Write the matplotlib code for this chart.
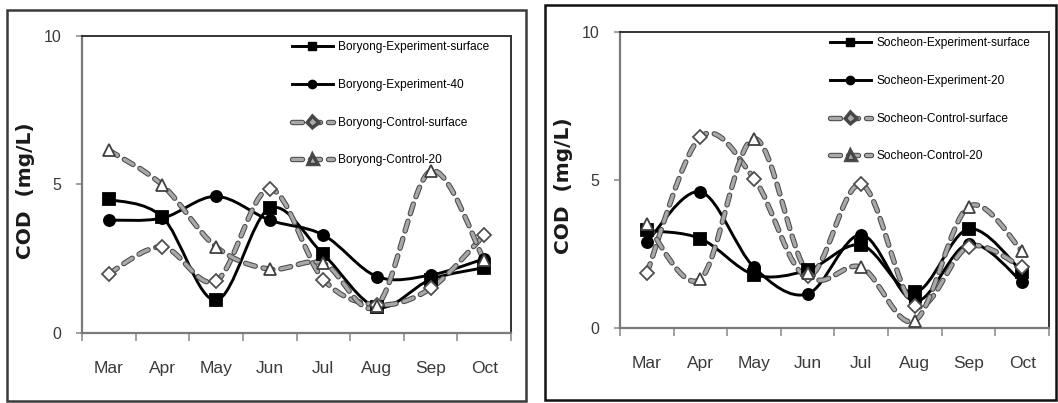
import numpy as np
import matplotlib
matplotlib.use('Agg')
import matplotlib.pyplot as plt
import matplotlib.patheffects as pe
from matplotlib.path import Path
from matplotlib.patches import PathPatch, Rectangle
from matplotlib.lines import Line2D

plt.rcParams['font.family'] = ['Liberation Sans', 'DejaVu Sans']

# Months on the x axis
months = ['Mar', 'Apr', 'May', 'Jun', 'Jul', 'Aug', 'Sep', 'Oct']

# Boryong COD values (mg/L)
bor_exp_surface = [4.5, 3.9, 1.1, 4.2, 2.65, 0.87, 1.8, 2.2]
bor_exp_40 = [3.8, 3.87, 4.6, 3.8, 3.3, 1.9, 1.95, 2.5]
bor_ctl_surface = [2.0, 2.9, 1.75, 4.85, 1.8, 0.95, 1.5, 3.3]
bor_ctl_20 = [6.15, 4.98, 2.9, 2.15, 2.35, 0.92, 5.45, 2.45]

# Socheon COD values (mg/L)
soc_exp_surface = [3.3, 3.02, 1.8, 1.95, 2.8, 1.2, 3.35, 1.9]
soc_exp_20 = [2.9, 4.6, 2.05, 1.15, 3.15, 0.9, 2.85, 1.55]
soc_ctl_surface = [1.85, 6.45, 5.05, 1.75, 4.85, 0.75, 2.75, 2.05]
soc_ctl_20 = [3.5, 1.65, 6.4, 1.85, 2.05, 0.25, 4.1, 2.6]

bor_labels = ['Boryong-Experiment-surface', 'Boryong-Experiment-40',
              'Boryong-Control-surface', 'Boryong-Control-20']
soc_labels = ['Socheon-Experiment-surface', 'Socheon-Experiment-20',
              'Socheon-Control-surface', 'Socheon-Control-20']


def smooth_path(x, y):
    # Excel style smoothed line through the points (cubic Bezier pieces)
    pts = np.column_stack([x, y]).astype(float)
    n = len(pts)
    verts = [pts[0]]
    codes = [Path.MOVETO]
    for i in range(n - 1):
        p0 = pts[max(i - 1, 0)]
        p1 = pts[i]
        p2 = pts[i + 1]
        p3 = pts[min(i + 2, n - 1)]
        verts += [p1 + (p2 - p0) / 6, p2 - (p3 - p1) / 6, p2]
        codes += [Path.CURVE4] * 3
    return Path(verts, codes)


solid = dict(color='black', lw=2.1)
dash_fx = [pe.Stroke(linewidth=3.9, foreground='#4a4a4a'), pe.Normal()]
dashed = dict(color='#a8a8a8', lw=2.4, linestyle=(0, (3, 2.4)))

styles = [
    dict(line='solid', marker='s', ms=9, mfc='black', mec='black'),
    dict(line='solid', marker='o', ms=8, mfc='black', mec='black'),
    dict(line='dash', marker='D', ms=7, mfc='white', mec='#505050'),
    dict(line='dash', marker='^', ms=9, mfc='white', mec='#404040'),
]


def draw_panel(ax, series, labels):
    x = np.arange(len(months))
    handles = []
    for vals, st, lab in zip(series, styles, labels):
        path = smooth_path(x, vals)
        if st['line'] == 'solid':
            patch = PathPatch(path, fill=False, edgecolor='black', lw=2.1,
                              capstyle='round', joinstyle='round', zorder=3)
        else:
            patch = PathPatch(path, fill=False, edgecolor='#a8a8a8', lw=2.4,
                              linestyle=(0, (3, 2.4)), capstyle='round',
                              joinstyle='round', zorder=3)
            patch.set_path_effects(dash_fx)
        ax.add_patch(patch)
        ax.plot(x, vals, linestyle='none', marker=st['marker'], ms=st['ms'],
                mfc=st['mfc'], mec=st['mec'], mew=1.3, zorder=4)
        if st['line'] == 'solid':
            h = Line2D([], [], **solid, marker=st['marker'], ms=6,
                       mfc='black', mec='black')
        else:
            h = Line2D([], [], **dashed, marker=st['marker'], ms=5,
                       mfc='#a8a8a8', mec='#404040', dash_capstyle='round',
                       path_effects=dash_fx)
        handles.append(h)

    ax.set_xlim(-0.5, 7.5)
    ax.set_ylim(0, 10)
    ax.set_yticks([0, 5, 10])
    ax.set_xticks(np.arange(-0.5, 8, 1))
    ax.set_xticklabels([])
    ax.set_xticks(x, minor=True)
    ax.set_xticklabels(months, minor=True)
    ax.tick_params(axis='x', which='major', direction='out', length=6,
                   color='#909090', width=1.2)
    ax.tick_params(axis='x', which='minor', length=0, pad=20,
                   labelsize=12.5, labelcolor='#3a3a3a')
    ax.tick_params(axis='y', direction='out', length=4, color='#909090',
                   width=1.2, pad=11, labelsize=11.5, labelcolor='#3a3a3a')
    for side in ['top', 'right']:
        ax.spines[side].set_color('#333333')
        ax.spines[side].set_linewidth(1.4)
    for side in ['left', 'bottom']:
        ax.spines[side].set_color('#7a7a7a')
        ax.spines[side].set_linewidth(1.6)

    ax.set_ylabel('COD  (mg/L)', family='DejaVu Sans', fontweight='bold',
                  fontsize=14.5, color='#1a1a1a')
    ax.yaxis.set_label_coords(-0.11, 0.48)

    ax.legend(handles, labels, loc='upper left', bbox_to_anchor=(0.476, 1.0),
              frameon=False, fontsize=8.6, handlelength=3.5,
              handletextpad=0.4, labelspacing=2.15, borderpad=0.45,
              borderaxespad=0)


fig = plt.figure(figsize=(10.58, 4.03), dpi=100)
ax1 = fig.add_axes([0.0775, 0.1737, 0.4055, 0.737])
ax2 = fig.add_axes([0.586, 0.1861, 0.4055, 0.7345])

draw_panel(ax1, [bor_exp_surface, bor_exp_40, bor_ctl_surface, bor_ctl_20],
           bor_labels)
draw_panel(ax2, [soc_exp_surface, soc_exp_20, soc_ctl_surface, soc_ctl_20],
           soc_labels)

# Outer frames around each panel
W, H = 1058, 403
fig.patches.append(Rectangle((7 / W, 2 / H), 519 / W, 391 / H,
                             transform=fig.transFigure, fill=False,
                             edgecolor='#3a3a3a', lw=1.8))
fig.patches.append(Rectangle((545 / W, 3 / H), 511 / W, 395 / H,
                             transform=fig.transFigure, fill=False,
                             edgecolor='#111111', lw=1.8))

fig.savefig('out.png', dpi=100)
